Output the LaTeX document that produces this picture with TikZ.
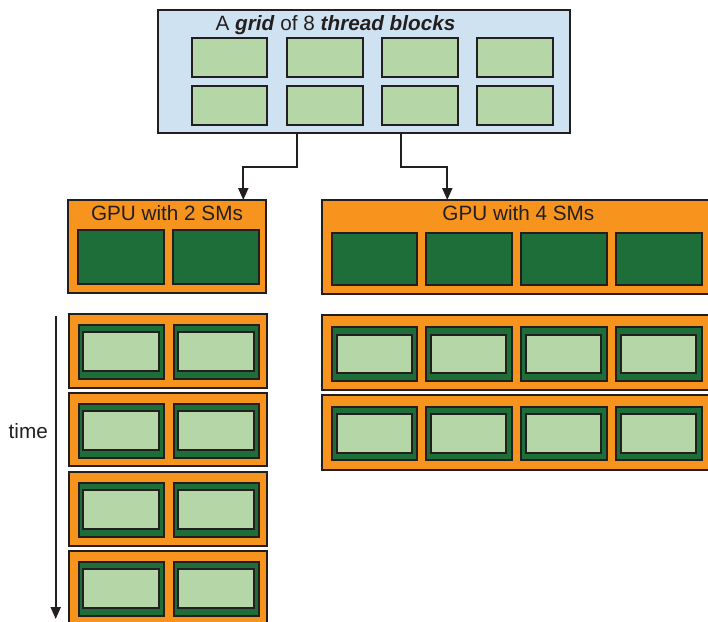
\documentclass[tikz,border=0pt]{standalone}
\usepackage{fontspec}
\setmainfont{Liberation Sans}
\usetikzlibrary{arrows.meta}

\definecolor{gridblue}{RGB}{207,226,242}
\definecolor{blockgreen}{RGB}{181,214,167}
\definecolor{smgreen}{RGB}{30,110,58}
\definecolor{gpuorange}{RGB}{247,148,30}
\definecolor{edge}{RGB}{35,31,32}

% rectangle node from its corners: style, name, x1, y1, x2, y2
\newcommand{\rbox}[6]{%
  \node[#1, inner sep=0pt, outer sep=0pt,
        minimum width={(#5)-(#3)}, minimum height={(#6)-(#4)}]
        (#2) at ({((#3)+(#5))/2},{((#4)+(#6))/2}) {};}
% streaming multiprocessor running a thread block: name, x1, y1, x2, y2
\newcommand{\busysm}[5]{%
  \rbox{smbox}{#1}{#2}{#3}{#4}{#5}%
  \rbox{tblock}{#1b}{(#2)+4.5}{(#3)+7.3}{(#4)-5.5}{(#5)-7.3}}

\tikzset{
  gridbox/.style={draw=edge, line width=2pt, fill=gridblue},
  tblock/.style={draw=edge, line width=2pt, fill=blockgreen},
  smbox/.style={draw=edge, line width=2pt, fill=smgreen},
  gpubox/.style={draw=edge, line width=2pt, fill=gpuorange},
  label/.style={inner sep=0pt, anchor=base, text=edge,
    font=\fontsize{20.7}{24}\selectfont},
  arr/.style={draw=edge, line width=2pt,
    -{Triangle[length=12pt,width=10pt]}},
}

\begin{document}
\begin{tikzpicture}[x=1pt, y=-1pt]
\useasboundingbox[fill=white] (0,0) rectangle (708,621);
\clip (0,0) rectangle (708,621);

% the grid of thread blocks
\rbox{gridbox}{grid}{158}{10}{570}{133}
\node[label] (title) at (335.5,30) {A \textbf{\textit{grid}} of 8 \textbf{\textit{thread blocks}}};
\foreach \i/\xa/\xb in {1/191.5/267, 2/287/362.5, 3/382/458, 4/476.5/552.5}
  \foreach \j/\ya/\yb in {1/38/77, 2/86/124.5}
    {\rbox{tblock}{g\j\i}{\xa}{\ya}{\xb}{\yb}}

% GPU with two SMs
\rbox{gpubox}{gpu2}{68}{200}{266}{293}
\node[label] (gpu2t) at (167,220) {GPU with 2 SMs};
\rbox{smbox}{a1}{78}{230}{164}{283.5}
\rbox{smbox}{a2}{173}{230}{259}{283.5}

% GPU with four SMs
\rbox{gpubox}{gpu4}{322}{200}{712}{294}
\node[label] (gpu4t) at (518.4,220.5) {GPU with 4 SMs};
\foreach \i/\xa/\xb in {1/332/417, 2/426/511.5, 3/521/606.5, 4/616/701.5}
  {\rbox{smbox}{b\i}{\xa}{233}{\xb}{285}}

% distribution of the grid onto the GPUs
\coordinate (s1) at (296.7,0);
\coordinate (s2) at (243.3,0);
\coordinate (s3) at (400.7,0);
\coordinate (s4) at (447.3,0);
\draw[arr] (grid.south -| s1) |- (s2 |- 0,167.3) -- (gpu2.north -| s2);
\draw[arr] (grid.south -| s3) |- (s4 |- 0,167.3) -- (gpu4.north -| s4);

% execution over time on two SMs: four waves
\foreach \k/\ya/\yb in {1/313.5/387.5, 2/392.5/466, 3/471.5/546, 4/550.5/626}{
  \rbox{gpubox}{w\k}{69}{\ya}{267}{\yb}
  \busysm{w\k l}{78.5}{\ya+11.5}{164}{\ya+65}
  \busysm{w\k r}{173.5}{\ya+11.5}{259}{\ya+65}
}

% execution over time on four SMs: two waves
\foreach \k/\ya/\yb in {1/315/390, 2/394.5/469.5}{
  \rbox{gpubox}{v\k}{322}{\ya}{712}{\yb}
  \foreach \i/\xa/\xb in {1/332/417, 2/426/511.5, 3/521/606.5, 4/616/701.5}
    {\busysm{v\k s\i}{\xa}{\ya+12.3}{\xb}{\ya+65.7}}
}

% time axis
\coordinate (t0) at (55.7,316);
\coordinate (t1) at (55.7,619);
\draw[arr] (t0) -- (t1);
\node[label, anchor=base east] (time) at (48,438) {time};
\end{tikzpicture}
\end{document}
